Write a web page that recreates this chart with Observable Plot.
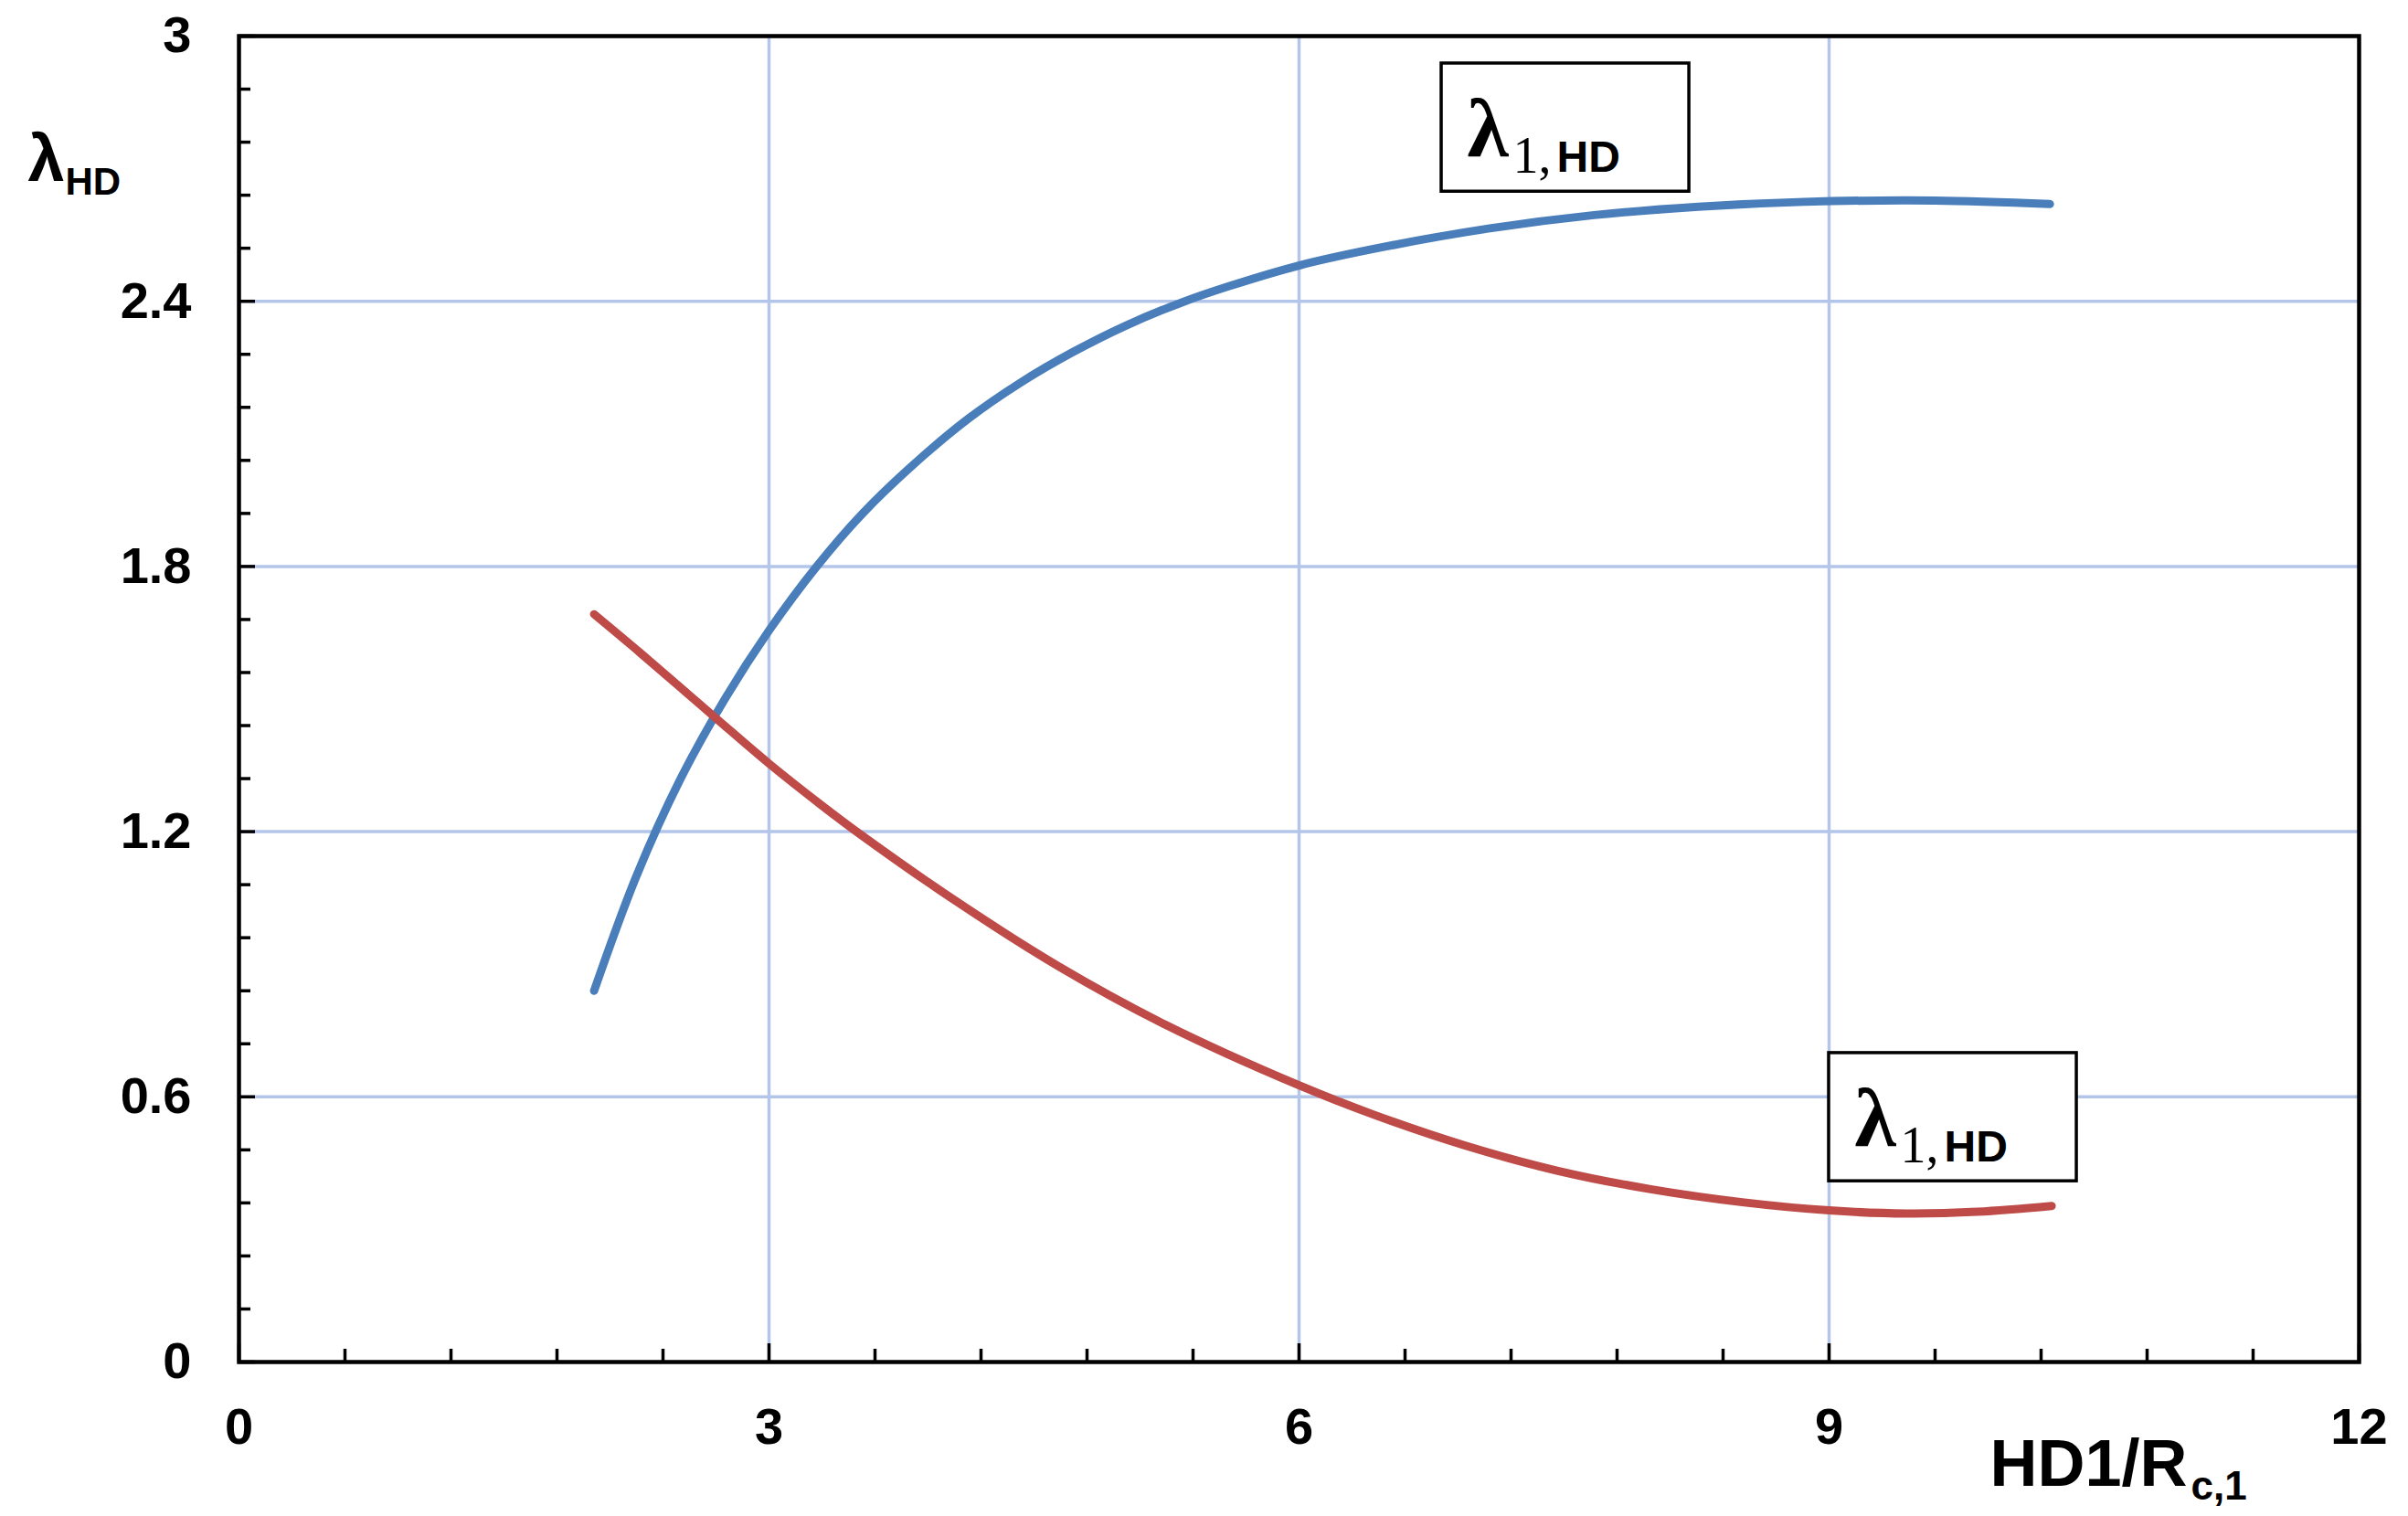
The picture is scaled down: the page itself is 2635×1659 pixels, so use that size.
<!DOCTYPE html>
<html>
<head>
<meta charset="utf-8">
<script src="https://cdn.jsdelivr.net/npm/d3@7"></script>
<script src="https://cdn.jsdelivr.net/npm/@observablehq/plot@0.6"></script>
<style>
  html, body { margin: 0; padding: 0; background: #fff; }
  #chart svg { display: block; }
</style>
</head>
<body>
<div id="chart"></div>
<script>
// ---- data ----
const xMajorTicks = [0, 3, 6, 9, 12];
const yMajorTicks = [0, 0.6, 1.2, 1.8, 2.4, 3];
const xMinorTicks = [0.6, 1.2, 1.8, 2.4, 3.6, 4.2, 4.8, 5.4, 6.6, 7.2, 7.8, 8.4, 9.6, 10.2, 10.8, 11.4];
const yMinorTicks = [0.12, 0.24, 0.36, 0.48, 0.72, 0.84, 0.96, 1.08, 1.32, 1.44, 1.56, 1.68,
                     1.92, 2.04, 2.16, 2.28, 2.52, 2.64, 2.76, 2.88];

const blueX = [2.01, 2.25, 2.5, 2.75, 3.0, 3.27, 3.53, 3.83, 4.13, 4.42, 4.72, 5.02, 5.34, 5.61,
               6.0, 6.48, 7.08, 7.67, 8.26, 8.86, 9.6, 10.25];
const blueY = [0.84, 1.10, 1.32, 1.50, 1.655, 1.80, 1.92, 2.035, 2.135, 2.215, 2.285, 2.345, 2.398, 2.435,
               2.481, 2.523, 2.565, 2.595, 2.614, 2.625, 2.628, 2.620];

const redX = [2.01, 2.27, 2.69, 3.0, 3.3, 3.52, 4.05, 4.64, 5.24, 6.0, 6.42, 6.93, 7.46, 7.99,
              8.52, 9.0, 9.44, 9.84, 10.26];
const redY = [1.692, 1.605, 1.460, 1.354, 1.259, 1.193, 1.045, 0.895, 0.764, 0.626, 0.560, 0.491, 0.433, 0.391,
              0.361, 0.343, 0.336, 0.340, 0.353];

// annotation boxes (data coordinates of their corners)
const boxLeft = [6.807, 9.0];
const boxRight = [8.209, 10.402];
const boxTop = [2.938, 0.699];
const boxBottom = [2.648, 0.409];

const labelMain = "λ";
const labelSub1 = "1,";
const labelSub2 = "HD";
const yTitle = ["λ", "HD"];
const xTitle = ["HD1/R", "c,1"];

// ---- build tables ----
const blue = blueX.map((x, i) => ({x, y: blueY[i]}));
const red = redX.map((x, i) => ({x, y: redY[i]}));
const boxes = boxLeft.map((x1, i) => ({x1, x2: boxRight[i], y1: boxTop[i], y2: boxBottom[i]}));

const GRID = "#b3c6ea";
const sans = "'Liberation Sans', Arial, sans-serif";
const serif = "'Liberation Serif', 'Times New Roman', serif";

const chart = Plot.plot({
  width: 2635,
  height: 1659,
  marginLeft: 261,
  marginRight: 54,
  marginTop: 39,
  marginBottom: 169,
  style: {fontFamily: sans, background: "white", color: "black"},
  x: {domain: [0, 12], label: null},
  y: {domain: [0, 3], label: null},
  marks: [
    Plot.gridX([3, 6, 9], {stroke: GRID, strokeOpacity: 1, strokeWidth: 3.5}),
    Plot.gridY([0.6, 1.2, 1.8, 2.4, 3], {stroke: GRID, strokeOpacity: 1, strokeWidth: 3.5}),
    Plot.line(blue, {x: "x", y: "y", stroke: "#4a7ebb", strokeWidth: 9, curve: "catmull-rom", strokeLinecap: "round"}),
    Plot.line(red, {x: "x", y: "y", stroke: "#be4b48", strokeWidth: 9, curve: "catmull-rom", strokeLinecap: "round"}),
    Plot.rect(boxes, {x1: "x1", x2: "x2", y1: "y1", y2: "y2", fill: "white", stroke: "black", strokeWidth: 3.5}),
    Plot.text(boxes, {x: "x1", y: "y1", text: () => labelMain, dx: 28, dy: 102, textAnchor: "start", lineAnchor: "bottom", fontSize: 92, fontWeight: "bold", fontFamily: serif, fill: "black"}),
    Plot.text(boxes, {x: "x1", y: "y1", text: () => labelSub1, dx: 78, dy: 120, textAnchor: "start", lineAnchor: "bottom", fontSize: 56, fontFamily: serif, fill: "black"}),
    Plot.text(boxes, {x: "x1", y: "y1", text: () => labelSub2, dx: 126, dy: 119, textAnchor: "start", lineAnchor: "bottom", fontSize: 48, fontWeight: "bold", fontFamily: sans, fill: "black"}),
    // axes: major ticks + labels
    Plot.axisX(xMajorTicks, {tickSize: -20, tickPadding: 70, fontSize: 56, fontWeight: "bold", strokeWidth: 3.5, label: null, tickFormat: d => String(d)}),
    Plot.axisX(xMinorTicks, {tickSize: -14, strokeWidth: 3.5, label: null, tickFormat: () => ""}),
    Plot.axisY(yMajorTicks, {tickSize: -18, tickPadding: 70, fontSize: 56, fontWeight: "bold", strokeWidth: 3.5, label: null, tickFormat: d => String(d)}),
    Plot.axisY(yMinorTicks, {tickSize: -13, strokeWidth: 3.5, label: null, tickFormat: () => ""}),
    Plot.frame({stroke: "black", strokeWidth: 4.5}),
    // axis titles
    Plot.text([yTitle[0]], {frameAnchor: "top-left", text: d => d, dx: -231, dy: 158, textAnchor: "start", lineAnchor: "bottom", fontSize: 72, fontWeight: "bold", fontFamily: sans}),
    Plot.text([yTitle[1]], {frameAnchor: "top-left", text: d => d, dx: -190, dy: 173, textAnchor: "start", lineAnchor: "bottom", fontSize: 42, fontWeight: "bold", fontFamily: sans}),
    Plot.text([xTitle[0]], {frameAnchor: "bottom-left", text: d => d, dx: 1916, dy: 135, textAnchor: "start", lineAnchor: "bottom", fontSize: 72, fontWeight: "bold", fontFamily: sans}),
    Plot.text([xTitle[1]], {frameAnchor: "bottom-left", text: d => d, dx: 2136, dy: 150, textAnchor: "start", lineAnchor: "bottom", fontSize: 44, fontWeight: "bold", fontFamily: sans})
  ]
});

document.getElementById("chart").appendChild(chart);
</script>
</body>
</html>
